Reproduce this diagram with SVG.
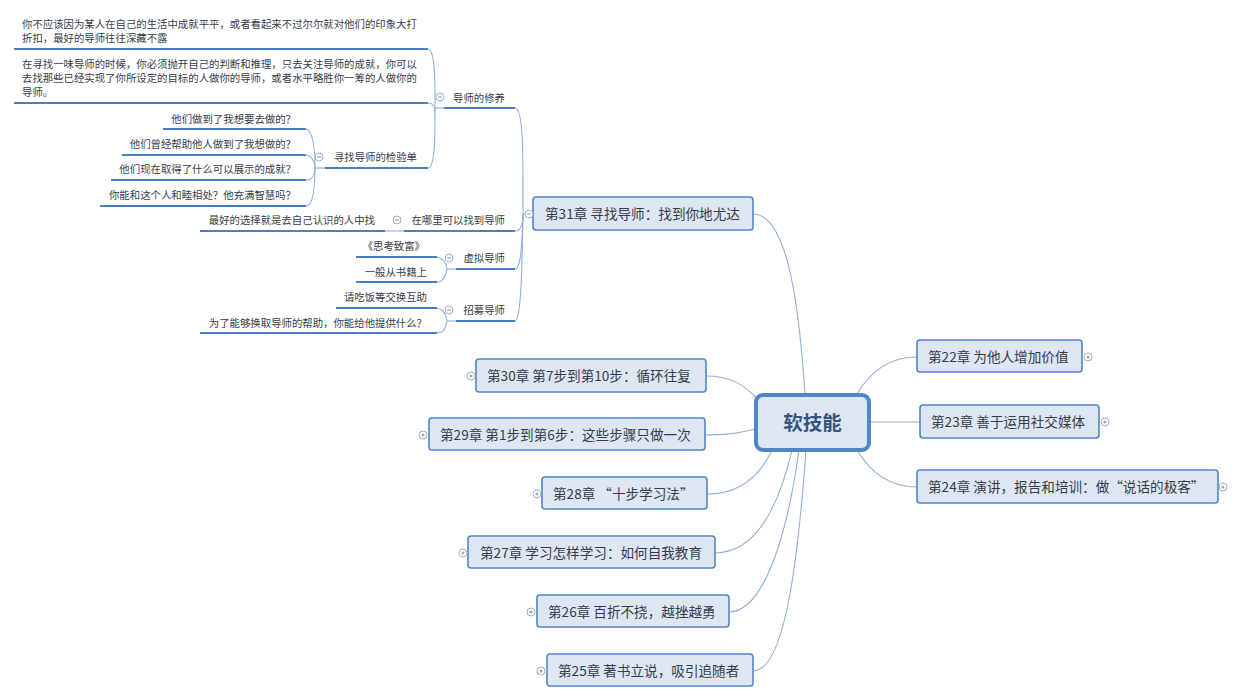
<svg xmlns="http://www.w3.org/2000/svg" width="1240" height="700" viewBox="0 0 1240 700">
<style>
text{font-family:"Noto Sans CJK SC","Noto Sans",sans-serif;fill:#363d4a}
.t{font-size:13.6px}
.s{font-size:10.4px}
.n{fill:#dde6f2;stroke:#4f86c6;stroke-width:1.6}
.c{fill:none;stroke:#8fb0d8;stroke-width:1.1}
.u{fill:none;stroke:#4a7fc4;stroke-width:2.2}
.i{fill:#fff;stroke:#90a6c4;stroke-width:.9}
.m{fill:none;stroke:#6f87a8;stroke-width:.9}
</style>
<defs>
<g id="minus"><circle class="i" r="4"/><path class="m" d="M-2 0H2"/></g>
<g id="plus"><circle class="i" r="4"/><path class="m" d="M-1.6 0H1.6M0-1.6V1.6"/></g>
</defs>
<rect width="1240" height="700" fill="#fff"/>
<g id="connectors">
<path class="c" d="M805 394C800 320 790 214 753 214"/>
<path class="c" d="M756 397C742 384 730 376 706 376"/>
<path class="c" d="M755 429C735 434 725 435 705 435"/>
<path class="c" d="M772 450C758 480 735 494 707 494"/>
<path class="c" d="M792 450C778 510 755 553 715 553"/>
<path class="c" d="M799 450C788 530 765 612 729 612"/>
<path class="c" d="M806 450C798 560 785 671 753 671"/>
<path class="c" d="M857 394C870 372 890 357 917 357"/>
<path class="c" d="M870 422H920"/>
<path class="c" d="M857 450C870 472 890 487 917 487"/>
<path class="c" d="M533 214H523"/>
<path class="c" d="M523 214C523 160 524 108 515 108"/>
<path class="c" d="M523 214C523 225 520 231 515 231"/>
<path class="c" d="M523 214C522 245 521 269 515 269"/>
<path class="c" d="M523 214C522 270 521 321 515 321"/>
<path class="c" d="M444 108H435"/>
<path class="c" d="M428 49C434 50 435 70 435 100C435 125 436 168 428 168"/>
<path class="c" d="M428 103C432 103 435 106 435 112"/>
<path class="c" d="M325 168H315"/>
<path class="c" d="M306 129C313 131 315 150 315 168C315 190 313 206 306 206"/>
<path class="c" d="M306 155C312 156 315 162 315 168"/>
<path class="c" d="M306 180C312 180 315 175 315 168"/>
<path class="c" d="M385 231H404"/>
<path class="c" d="M456 269H447"/>
<path class="c" d="M437 257C443 258 446 262 447 269C446 276 443 282 437 282"/>
<path class="c" d="M456 321H447"/>
<path class="c" d="M437 308C443 309 446 314 447 321C446 328 443 333 437 333"/>
</g>
<g id="central"><rect x="756" y="395" width="113" height="55" rx="7" fill="#dde6f2" stroke="#4f86c6" stroke-width="4"/><text x="812.5" y="430" text-anchor="middle" style="font-size:19.5px;font-weight:700;fill:#34557f">软技能</text></g>
<g id="ch31"><rect class="n" x="533" y="197" width="220" height="33" rx="3"/><text class="t" x="545" y="219">第31章 寻找导师：找到你地尤达</text><use href="#minus" x="529" y="214"/></g>
<g id="ch30"><rect class="n" x="476" y="359" width="230" height="33" rx="3"/><text class="t" x="487" y="381">第30章 第7步到第10步：循环往复</text><use href="#plus" x="471" y="376"/></g>
<g id="ch29"><rect class="n" x="429" y="418" width="276" height="32" rx="3"/><text class="t" x="440" y="440">第29章 第1步到第6步：这些步骤只做一次</text><use href="#plus" x="423" y="435"/></g>
<g id="ch28"><rect class="n" x="542" y="477" width="165" height="32" rx="3"/><text class="t" x="553" y="499">第28章 “十步学习法”</text><use href="#plus" x="537" y="494"/></g>
<g id="ch27"><rect class="n" x="468" y="536" width="247" height="32" rx="3"/><text class="t" x="480" y="558">第27章 学习怎样学习：如何自我教育</text><use href="#plus" x="463" y="553"/></g>
<g id="ch26"><rect class="n" x="537" y="595" width="192" height="32" rx="3"/><text class="t" x="548" y="617">第26章 百折不挠，越挫越勇</text><use href="#plus" x="531" y="612"/></g>
<g id="ch25"><rect class="n" x="547" y="654" width="206" height="32" rx="3"/><text class="t" x="558" y="676">第25章 著书立说，吸引追随者</text><use href="#plus" x="541" y="671"/></g>
<g id="ch22"><rect class="n" x="917" y="340" width="165" height="32" rx="3"/><text class="t" x="928" y="362">第22章 为他人增加价值</text><use href="#plus" x="1088" y="357"/></g>
<g id="ch23"><rect class="n" x="920" y="405" width="179" height="33" rx="3"/><text class="t" x="931" y="427">第23章 善于运用社交媒体</text><use href="#plus" x="1105" y="422"/></g>
<g id="ch24"><rect class="n" x="917" y="470" width="301" height="33" rx="3"/><text class="t" x="928" y="492">第24章 演讲，报告和培训：做“说话的极客”</text><use href="#plus" x="1223" y="487"/></g>
<g id="mentor-cultivation"><path class="u" d="M444 108H515"/><text class="s" x="505" y="102" text-anchor="end">导师的修养</text><use href="#minus" x="440" y="97"/></g>
<g id="p1"><path class="u" d="M14 49H428"/><text class="s" x="22" y="28">你不应该因为某人在自己的生活中成就平平，或者看起来不过尔尔就对他们的印象大打</text><text class="s" x="22" y="42">折扣，最好的导师往往深藏不露</text></g>
<g id="p2"><path class="u" d="M14 103H428"/><text class="s" x="22" y="68">在寻找一味导师的时候，你必须抛开自己的判断和推理，只去关注导师的成就，你可以</text><text class="s" x="22" y="82">去找那些已经实现了你所设定的目标的人做你的导师，或者水平略胜你一筹的人做你的</text><text class="s" x="22" y="96">导师。</text></g>
<g id="checklist"><path class="u" d="M325 168H428"/><text class="s" x="417" y="161" text-anchor="end">寻找导师的检验单</text><use href="#minus" x="319" y="157"/></g>
<g id="c1"><path class="u" d="M163 129H306"/><text class="s" x="296" y="123" text-anchor="end">他们做到了我想要去做的？</text></g>
<g id="c2"><path class="u" d="M122 155H306"/><text class="s" x="296" y="148" text-anchor="end">他们曾经帮助他人做到了我想做的？</text></g>
<g id="c3"><path class="u" d="M111 180H306"/><text class="s" x="296" y="173" text-anchor="end">他们现在取得了什么可以展示的成就？</text></g>
<g id="c4"><path class="u" d="M100 206H306"/><text class="s" x="296" y="199" text-anchor="end">你能和这个人和睦相处？他充满智慧吗？</text></g>
<g id="where"><path class="u" d="M404 231H515"/><text class="s" x="505" y="224" text-anchor="end">在哪里可以找到导师</text><use href="#minus" x="397" y="220"/></g>
<g id="where1"><path class="u" d="M200 231H385"/><text class="s" x="375" y="224" text-anchor="end">最好的选择就是去自己认识的人中找</text></g>
<g id="virtual"><path class="u" d="M456 269H515"/><text class="s" x="505" y="262" text-anchor="end">虚拟导师</text><use href="#minus" x="449" y="258"/></g>
<g id="v1"><path class="u" d="M356 257H437"/><text class="s" x="425" y="250" text-anchor="end">《思考致富》</text></g>
<g id="v2"><path class="u" d="M356 282H437"/><text class="s" x="427" y="276" text-anchor="end">一般从书籍上</text></g>
<g id="recruit"><path class="u" d="M456 321H515"/><text class="s" x="505" y="314" text-anchor="end">招募导师</text><use href="#minus" x="449" y="310"/></g>
<g id="r1"><path class="u" d="M336 308H437"/><text class="s" x="427" y="301" text-anchor="end">请吃饭等交换互助</text></g>
<g id="r2"><path class="u" d="M200 333H437"/><text class="s" x="427" y="327" text-anchor="end">为了能够换取导师的帮助，你能给他提供什么？</text></g>
</svg>
